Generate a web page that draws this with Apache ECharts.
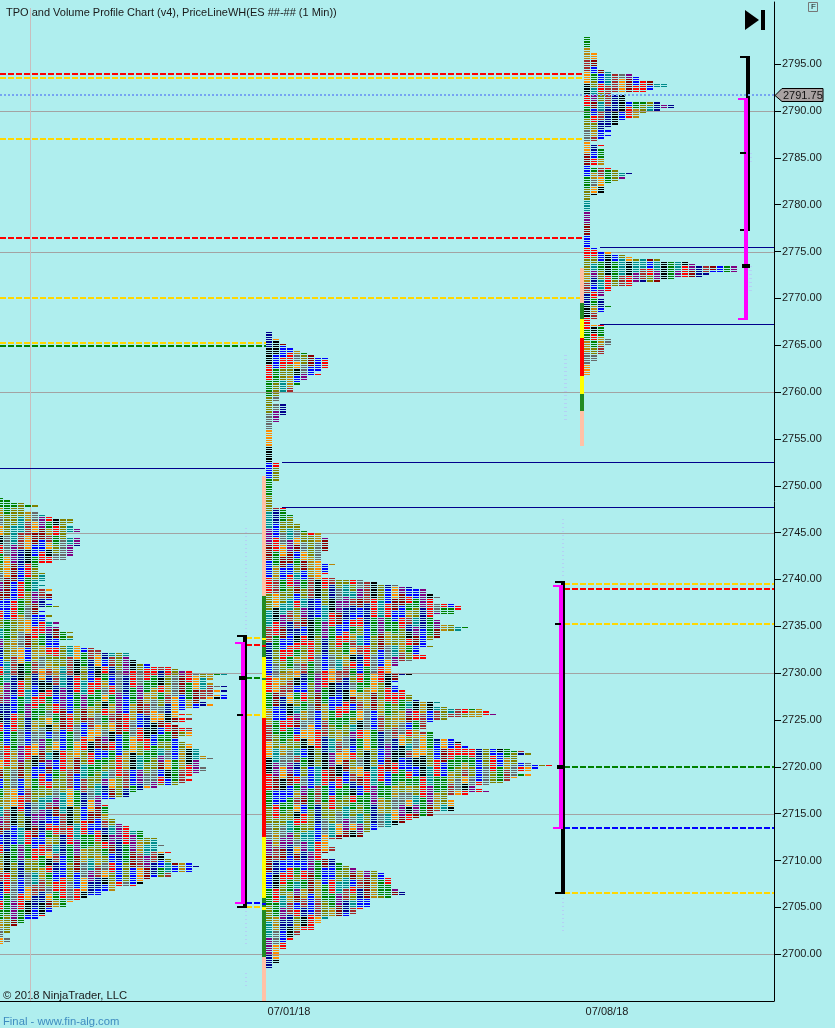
<!DOCTYPE html>
<html><head><meta charset="utf-8">
<style>html,body{margin:0;padding:0;background:#AFEEEE;overflow:hidden}#c{width:835px;height:1028px}</style>
<script src="https://cdn.jsdelivr.net/npm/echarts@6/dist/echarts.min.js"></script>
</head><body><div id="c"></div>
<script>
// --- values ---
const tickPrices=[2700,2705,2710,2715,2720,2725,2730,2735,2740,2745,2750,2755,2760,2765,2770,2775,2780,2785,2790,2795];
const gridPrices=[2700,2715,2730,2745,2760,2775,2790];
const dateLabels=['07/01/18','07/08/18'];
const lastPrice=2791.75;

// TPO count per 0.25 price row, listed from the highest row downwards
const profile1Top=2748.5;
const profile1Rows=[1,2,4,6,4,4,6,7,8,11,11,10,11,12,12,10,10,12,12,12,12,11,11,11,11,10,10,8,6,6,6,6,7,7,7,7,6,7,6,8,7,8,8,8,7,8,9,6,7,6,8,7,7,9,8,9,9,11,10,11,11,9,9,12,14,15,19,19,19,
20,20,22,25,26,28,33,31,31,30,31,33,31,33,31,33,33,29,30,31,29,27,26,28,26,28,27,25,26,28,28,28,28,26,26,27,28,28,29,29,29,30,31,29,29,29,30,30,29,28,27,28,27,26,23,21,20,19,19,17,15,15,16,16,16,16,16,16,17,17,18,19,19,21,21,21,23,23,23,24,23,23,25,24,24,25,25,28,29,28,28,25,25,22,21,21,20,17,17,15,15,13,12,11,10,10,8,8,7,7,6,4,4,3,2,2,2,1,1,2,2,1];

const profile2Top=2766.25;
const profile2Rows=[1,1,1,2,2,3,3,4,5,6,7,9,9,9,9,9,8,7,8,6,6,5,5,4,4,4,2,2,2,2,1,3,3,3,3,3,2,2,2,
1,1,1,1,1,1,1,1,1,1,1,1,1,1,1,1,1,2,2,2,2,2,2,2,2,1,1,1,1,1,1,1,1,1,1,1,
3,3,3,4,4,4,4,5,5,5,6,8,8,9,9,9,9,9,9,8,8,8,8,8,10,9,9,9,9,8,10,
14,16,19,21,23,23,24,25,24,24,27,28,28,27,27,24,24,25,25,27,29,28,25,25,25,24,23,23,24,22,22,22,23,23,21,19,19,18,18,18,21,19,19,19,18,19,19,20,20,21,21,22,25,24,26,31,32,33,31,26,24,23,23,23,22,24,
24,24,27,28,28,29,35,37,38,36,36,36,38,41,39,38,36,38,36,35,34,32,30,31,32,29,26,26,27,27,27,27,27,24,24,22,21,20,19,18,16,15,14,14,11,9,9,9,10,10,9,8,8,10,10,11,12,13,16,17,17,18,18,18,18,18,19,20,20,18,15,15,15,15,14,13,13,12,9,8,8,7,7,7,5,5,4,4,3,3,3,3,2,2,2,2,2,2,1,1];

const profile3Top=2797.75;
const profile3Rows=[1,1,1,1,1,1,1,2,2,2,2,2,2,2,3,4,7,8,8,10,12,12,10,9,4,6,6,6,11,13,13,11,9,8,8,6,5,5,4,3,4,3,4,3,2,1,3,2,3,3,3,3,3,3,3,1,4,5,7,6,6,5,4,3,3,3,3,2,1,1,1,1,1,1,1,1,1,1,1,1,1,1,
1,1,1,1,1,1,1,1,2,2,4,6,7,11,15,16,22,22,22,18,17,13,11,7,7,4,4,3,3,2,3,3,3,4,3,3,2,2,2,1,1,3,3,3,3,3,3,4,4,4,3,3,3,3,2,2,2,1,1,1,1,1,1];

// session price-column boundaries (high to low)
const session2ColumnPrices=[2751,2738.25,2733.75,2733.5,2733,2732.75,2731.75,2729.5,2729.25,2725.25,2712.5,2706,2705.5,2705.25,2705,2704.75,2699.75,2695];
const session2ColumnKinds=['s','g','y','g','r','g','y','g','y','r','y','g','b','g','y','g','s'];
const session3ColumnPrices=[2773.25,2769.5,2767.75,2765.75,2761.75,2759.75,2758,2754.25];
const session3ColumnKinds=['s','g','y','r','y','g','s'];

// key price levels
const levelsS3Left={red:[2794,2776.5],gold:[2793.5,2787]};
const levelS3Gold=2770;
const levelsS2Top={gold:2765.25,green:2764.9};
const navyLeft=2751.9;
const navyS2=[2752.5,2747.75];
const navyS3=[2775.5,2767.25];
const midGold=[2739.5,2735.25,2706.5], midRed=2739, midGreen=2720, midBlue=2713.5;
const stubGold=[2733.75,2725.5,2705], stubRed=2733, stubGreen=2729.5, stubBlue=2705.5;

// range brackets: black high/low, magenta high/low, inner marks
const bracketA={bh:2734,bl:2705,mh:2733.25,ml:2705.5,poc:2729.5,mid:2725.5};
const bracketB={bh:2739.75,bl:2706.5,mh:2739.25,ml:2713.5,poc:2720,mid:2735.25};
const bracketC={bh:2795.75,bl:2777.25,mh:2791.25,ml:2767.75,poc:2773.5,mid:2785.5};

// pale volume traces: high, low
const paleA=[[2745.5,2732],[2705,2701],[2698,2696.5]];
const paleB=[[2746.5,2740],[2706,2702.5]];
const paleC=[[2764,2757]];
const paleD=[[2785.5,2784.5],[2773.5,2770.75]];

// --- layout ---
const PX=7, plotW=774;
const s=px=>px/PX;
const palette=['#0000FF','#0000FF','#FF0000','#FF0000','#008000','#008000','#808000','#808000','#B8860B','#008B8B','#696969','#A52A2A','#800080','#FF8C00','#00008B','#8B0000','#000000'];
const kind={s:'#FFC1A6',g:'#228B22',y:'#FFFF00',r:'#FF0000',b:'#0000FF'};

// Period colours are a style: picked by a fixed scramble of column and row block
function tpoColour(p,col,row){
  const len=[4,7,5,9,6,3,8,5][(col*3+p)%8];
  const block=Math.floor((row+col*2)/len);
  const h=Math.imul(block*31+col*131+p*17+7,2654435761)>>>0;
  return Math.floor((h>>>24)*palette.length/256);
}
function cells(p,top,rows,basePx){
  const out=[];
  rows.forEach((n,r)=>{for(let c=0;c<n;c++)out.push([s(basePx+c*PX),top-r*0.25,tpoColour(p,c,r)]);});
  return out;
}
const tpoData=[].concat(cells(0,profile1Top,profile1Rows,-3),cells(1,profile2Top,profile2Rows,266),cells(2,profile3Top,profile3Rows,584));

// segments: x1,price1,x2,price2 + style
const segs=[];
function H(price,a,b,color,w,dash,z){segs.push({v:[s(a),price,s(b),price],color,w,dash,z:z||0});}
function V(px,hi,lo,color,w,z,dash){segs.push({v:[s(px),hi,s(px),lo],color,w,dash,z:z||0});}
const D=[6,2], P=[1,3];
gridPrices.forEach(p=>H(p,0,plotW,'#A3A3A3',1));
V(30,2801,2695,'#C9BDBD',1);
levelsS3Left.red.forEach(p=>H(p,0,584,'#FF0000',2,D,1));
levelsS3Left.gold.forEach(p=>H(p,0,584,'#FFD700',2,D,1));
H(levelS3Gold,0,580,'#FFD700',2,D,1);
H(levelsS2Top.gold,0,266,'#FFD700',2,D,1);
H(levelsS2Top.green,0,266,'#008000',2,D,1);
H(navyLeft,0,265,'#00008B',1);
navyS2.forEach(p=>H(p,282,plotW,'#00008B',1));
navyS3.forEach(p=>H(p,600,plotW,'#00008B',1));
midGold.forEach(p=>H(p,564,plotW,'#FFD700',2,D,1));
H(midRed,564,plotW,'#FF0000',2,D,1);
H(midGreen,564,plotW,'#008000',2,D,1);
H(midBlue,564,plotW,'#0000FF',2,D,1);
stubGold.forEach(p=>H(p,246,262,'#FFD700',2,D,1));
H(stubRed,246,262,'#FF0000',2,D,1);
H(stubGreen,246,262,'#008000',2,D,1);
H(stubBlue,246,262,'#0000FF',2,D,1);
paleA.forEach(r=>V(246,r[0],r[1],'#B5D0F5',2,0,P));
paleB.forEach(r=>V(563,r[0],r[1],'#B5D0F5',2,0,P));
paleC.forEach(r=>V(565,r[0],r[1],'#B5D0F5',3,0,P));
paleD.forEach(r=>V(750,r[0],r[1],'#B5D0F5',3,0,P));
function bracket(b,x){ // x = left px of the black bar (4px wide)
  V(x+2,b.bh,b.bl,'#000000',4,3);
  H(b.bh,x-6,x+4,'#000000',2,null,3);
  H(b.bl,x-6,x+4,'#000000',2,null,3);
  V(x,b.mh,b.ml,'#FF00FF',4,4);
  H(b.mh,x-8,x+2,'#FF00FF',2,null,4);
  H(b.ml,x-8,x+2,'#FF00FF',2,null,4);
  H(b.poc,x-4,x+4,'#000000',4,null,5);
  H(b.mid,x-6,x,'#000000',2,null,5);
}
bracket(bracketA,243);bracket(bracketB,561);bracket(bracketC,746);
H(lastPrice,0,plotW,'#76A4F2',2,[2,2],6);

// price column blocks
function column(prices,kinds,px){return kinds.map((k,i)=>({v:[s(px),prices[i],prices[i+1]],color:kind[k]}));}
const colData=[].concat(column(session2ColumnPrices,session2ColumnKinds,262),column(session3ColumnPrices,session3ColumnKinds,580));

const chart=echarts.init(document.getElementById('c'),null,{renderer:'canvas',devicePixelRatio:1});
const FONT='"Liberation Sans",Arial,sans-serif';
chart.setOption({
  animation:false,backgroundColor:'#AFEEEE',
  grid:{left:0,top:2,width:plotW,height:999,containLabel:false},
  tooltip:{show:false},
  xAxis:{type:'value',min:0,max:plotW/PX,splitLine:{show:false},
    axisLine:{show:true,onZero:false,lineStyle:{color:'#000',width:1}},axisTick:{show:false},
    axisLabel:{show:true,customValues:[s(289),s(607)],margin:5,color:'#1a1a1a',fontSize:11,fontFamily:'Liberation Sans',
      formatter:v=>dateLabels[v<s(400)?0:1]}},
  yAxis:{type:'value',position:'right',min:2695,max:2801.64,splitLine:{show:false},
    axisLine:{show:true,onZero:false,lineStyle:{color:'#000',width:1}},
    axisTick:{show:true,customValues:tickPrices,length:7,lineStyle:{color:'#000',width:1}},
    axisLabel:{customValues:tickPrices,margin:8,padding:[3,0,0,0],color:'#1a1a1a',fontSize:11,fontFamily:'Liberation Sans',
      formatter:v=>Number(v).toFixed(2)}},
  series:[
    {type:'custom',name:'rules-back',coordinateSystem:'cartesian2d',silent:true,z:1,
      data:segs.map((d,i)=>[d.v[0],d.v[1],d.v[2],d.v[3],i]).filter(d=>segs[d[4]].z===0),
      renderItem:segItem,encode:{x:0,y:1}},
    {type:'custom',name:'tpo',coordinateSystem:'cartesian2d',silent:true,z:2,progressive:0,
      data:tpoData,encode:{x:0,y:1},
      renderItem(params,api){
        const p=api.coord([api.value(0),api.value(1)]);
        const pitch=api.size([0,0.25])[1];
        const top=Math.floor(p[1]-pitch/2), next=Math.floor(p[1]+pitch/2);
        return {type:'rect',shape:{x:Math.round(p[0]),y:top,width:6,height:Math.max(1,next-top-1)},
          style:{fill:palette[api.value(2)]}};
      }},
    {type:'custom',name:'column',coordinateSystem:'cartesian2d',silent:true,z:3,
      data:colData.map((d,i)=>[d.v[0],d.v[1],d.v[2],i]),encode:{x:0,y:[1,2]},
      renderItem(params,api){
        const a=api.coord([api.value(0),api.value(1)]),b=api.coord([api.value(0),api.value(2)]);
        const y=Math.round(a[1]);
        return {type:'rect',shape:{x:Math.round(a[0]),y,width:4,height:Math.round(b[1])-y},style:{fill:colData[api.value(3)].color}};
      }},
    {type:'custom',name:'rules-front',coordinateSystem:'cartesian2d',silent:true,z:4,
      data:segs.map((d,i)=>[d.v[0],d.v[1],d.v[2],d.v[3],i]).filter(d=>segs[d[4]].z!==0).sort((a,b)=>segs[a[4]].z-segs[b[4]].z),
      renderItem:segItem,encode:{x:0,y:1}},
    {type:'custom',name:'last',coordinateSystem:'cartesian2d',silent:true,z:6,clip:false,
      data:[[plotW/PX,lastPrice]],encode:{x:0,y:1},
      renderItem(params,api){
        const p=api.coord([api.value(0),api.value(1)]);
        const x=Math.round(p[0]),y=Math.round(p[1]);
        return {type:'group',children:[
          {type:'polygon',shape:{points:[[x+1,y+0.5],[x+8,y-6.5],[x+49,y-6.5],[x+49,y+6.5],[x+8,y+6.5]]},style:{fill:'#A9A2A2',stroke:'#000',lineWidth:1}},
          {type:'text',style:{text:Number(api.value(1)).toFixed(2),x:x+9,y:y+1,font:'11px '+FONT,fill:'#111',verticalAlign:'middle',align:'left'}}
        ]};
      }}
  ],
  graphic:[
    {type:'text',silent:true,style:{text:'TPO and Volume Profile Chart (v4), PriceLineWH(ES ##-## (1 Min))',x:6,y:7,font:'11px '+FONT,fill:'#1a1a1a'}},
    {type:'text',silent:true,style:{text:'© 2018 NinjaTrader, LLC',x:3,y:990,font:'11.25px '+FONT,fill:'#1a1a1a'}},
    {type:'text',silent:true,style:{text:'Final - www.fin-alg.com',x:3,y:1016,font:'11.25px '+FONT,fill:'#3E8CC0'}},
    {type:'polygon',silent:true,shape:{points:[[745,10],[745,30],[759,20]]},style:{fill:'#000'}},
    {type:'rect',silent:true,shape:{x:761,y:10,width:4,height:20},style:{fill:'#000'}},
    {type:'rect',silent:true,shape:{x:808.5,y:2.5,width:9,height:9},style:{fill:'#AFEEEE',stroke:'#777',lineWidth:1}},
    {type:'text',silent:true,style:{text:'F',x:811,y:3,font:'8px '+FONT,fill:'#111'}}
  ]
});
function segItem(params,api){
  const d=segs[api.value(4)];
  const a=api.coord([api.value(0),api.value(1)]),b=api.coord([api.value(2),api.value(3)]);
  const odd=d.w%2?0.5:0;
  let x1=a[0],y1=a[1],x2=b[0],y2=b[1];
  if(y1===y2){y1=y2=Math.round(y1)+odd;x1=Math.round(x1);x2=Math.round(x2);}
  else{x1=x2=Math.round(x1)+odd;y1=Math.round(y1);y2=Math.round(y2);}
  return {type:'line',shape:{x1,y1,x2,y2},style:{stroke:d.color,lineWidth:d.w,lineDash:d.dash||null,lineCap:'butt'}};
}
</script></body></html>
